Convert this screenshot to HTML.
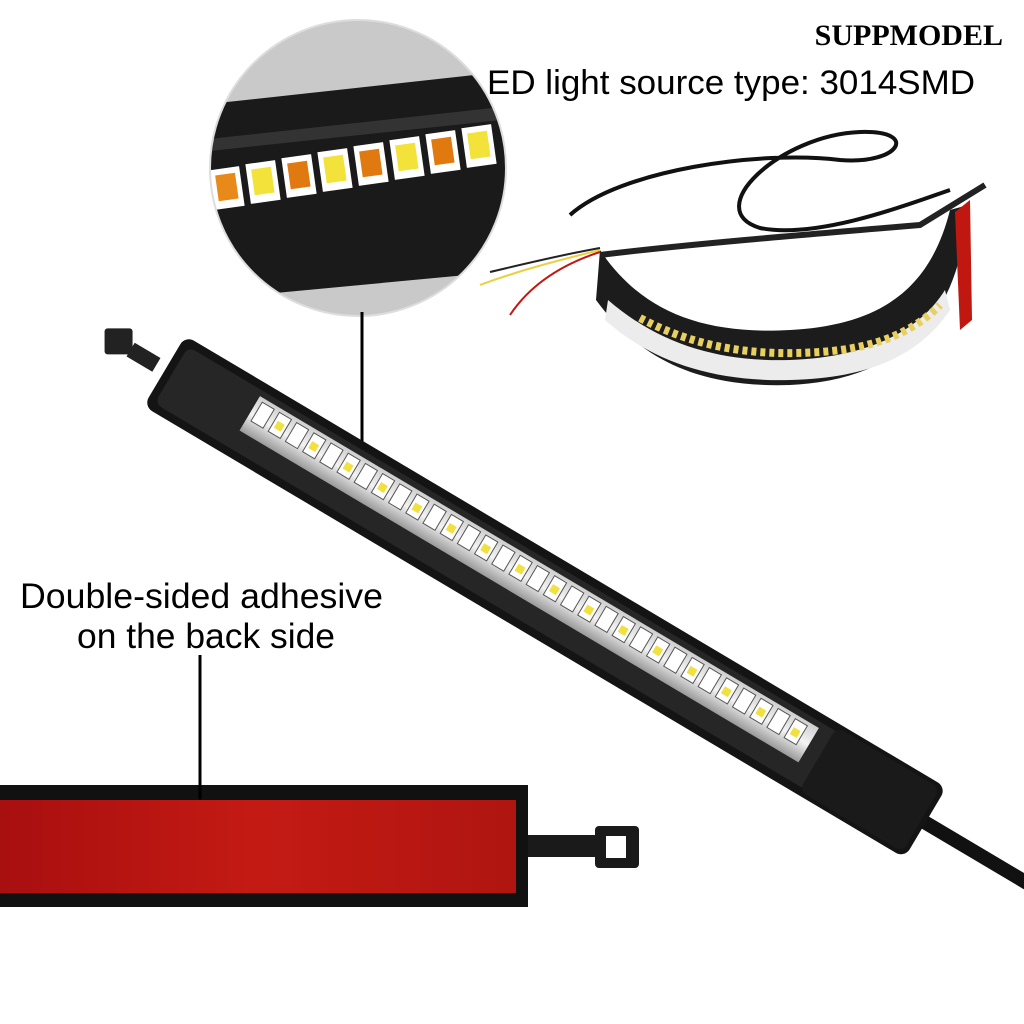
<!DOCTYPE html>
<html><head><meta charset="utf-8"><style>
html,body{margin:0;padding:0;background:#fff}
svg{display:block}
</style></head><body>
<svg width="1024" height="1024" viewBox="0 0 1024 1024" xmlns="http://www.w3.org/2000/svg">
<defs>
<clipPath id="cc"><circle cx="358" cy="168" r="148"/></clipPath>
<linearGradient id="red" x1="0" x2="1"><stop offset="0" stop-color="#a80f0f"/><stop offset="0.5" stop-color="#c41a14"/><stop offset="1" stop-color="#b01510"/></linearGradient>
<linearGradient id="win" x1="0" y1="0" x2="0" y2="1"><stop offset="0" stop-color="#cfcfcf"/><stop offset="0.5" stop-color="#f3f3f3"/><stop offset="1" stop-color="#9a9a9a"/></linearGradient>
</defs>
<rect width="1024" height="1024" fill="#fff"/>

<g clip-path="url(#cc)">
<rect x="200" y="10" width="320" height="320" fill="#c9c9c9"/>
<polygon points="200,105 520,70 520,270 200,300" fill="#1a1a1a"/>
<polygon points="200,140 520,105 520,118 200,152" fill="#333"/>
<g>
<rect x="212" y="168" width="30" height="40" fill="#fff" transform="rotate(-8 227 188)"/><rect x="217" y="174" width="20" height="26" fill="#e88a1a" transform="rotate(-8 227 188)"/>
<rect x="248" y="162" width="30" height="40" fill="#fff" transform="rotate(-8 263 182)"/><rect x="253" y="168" width="20" height="26" fill="#f2e23a" transform="rotate(-8 263 182)"/>
<rect x="284" y="156" width="30" height="40" fill="#fff" transform="rotate(-8 299 176)"/><rect x="289" y="162" width="20" height="26" fill="#e07a10" transform="rotate(-8 299 176)"/>
<rect x="320" y="150" width="30" height="40" fill="#fff" transform="rotate(-8 335 170)"/><rect x="325" y="156" width="20" height="26" fill="#f2e23a" transform="rotate(-8 335 170)"/>
<rect x="356" y="144" width="30" height="40" fill="#fff" transform="rotate(-8 371 164)"/><rect x="361" y="150" width="20" height="26" fill="#e07a10" transform="rotate(-8 371 164)"/>
<rect x="392" y="138" width="30" height="40" fill="#fff" transform="rotate(-8 407 158)"/><rect x="397" y="144" width="20" height="26" fill="#f2e23a" transform="rotate(-8 407 158)"/>
<rect x="428" y="132" width="30" height="40" fill="#fff" transform="rotate(-8 443 152)"/><rect x="433" y="138" width="20" height="26" fill="#e07a10" transform="rotate(-8 443 152)"/>
<rect x="464" y="126" width="30" height="40" fill="#fff" transform="rotate(-8 479 146)"/><rect x="469" y="132" width="20" height="26" fill="#f2e23a" transform="rotate(-8 479 146)"/>
</g>
</g>
<circle cx="358" cy="168" r="148" fill="none" stroke="#ddd" stroke-width="2"/>
<line x1="362" y1="312" x2="362" y2="462" stroke="#000" stroke-width="3"/>

<g transform="translate(165,370) rotate(30.7)">
<rect x="-40" y="-8" width="30" height="16" fill="#222"/>
<rect x="-68" y="-14" width="28" height="26" rx="3" fill="#222" transform="rotate(-30.7 -54 0)"/>
<rect x="860" y="-6" width="160" height="14" fill="#111"/>
<rect x="0" y="-40" width="885" height="82" rx="10" fill="#141414"/>
<rect x="8" y="-32" width="869" height="66" rx="8" fill="#262626"/>
<rect x="95" y="-26" width="650" height="40" fill="url(#win)"/>
<g fill="#fff" stroke="#555" stroke-width="1">
<rect x="100" y="-22" width="14" height="22"/><rect x="120" y="-22" width="14" height="22"/><rect x="140" y="-22" width="14" height="22"/><rect x="160" y="-22" width="14" height="22"/><rect x="180" y="-22" width="14" height="22"/><rect x="200" y="-22" width="14" height="22"/><rect x="220" y="-22" width="14" height="22"/><rect x="240" y="-22" width="14" height="22"/><rect x="260" y="-22" width="14" height="22"/><rect x="280" y="-22" width="14" height="22"/><rect x="300" y="-22" width="14" height="22"/><rect x="320" y="-22" width="14" height="22"/><rect x="340" y="-22" width="14" height="22"/><rect x="360" y="-22" width="14" height="22"/><rect x="380" y="-22" width="14" height="22"/><rect x="400" y="-22" width="14" height="22"/><rect x="420" y="-22" width="14" height="22"/><rect x="440" y="-22" width="14" height="22"/><rect x="460" y="-22" width="14" height="22"/><rect x="480" y="-22" width="14" height="22"/><rect x="500" y="-22" width="14" height="22"/><rect x="520" y="-22" width="14" height="22"/><rect x="540" y="-22" width="14" height="22"/><rect x="560" y="-22" width="14" height="22"/><rect x="580" y="-22" width="14" height="22"/><rect x="600" y="-22" width="14" height="22"/><rect x="620" y="-22" width="14" height="22"/><rect x="640" y="-22" width="14" height="22"/><rect x="660" y="-22" width="14" height="22"/><rect x="680" y="-22" width="14" height="22"/><rect x="700" y="-22" width="14" height="22"/><rect x="720" y="-22" width="14" height="22"/>
</g>
<g fill="#f0e040">
<rect x="123" y="-14" width="8" height="8"/><rect x="163" y="-14" width="8" height="8"/><rect x="203" y="-14" width="8" height="8"/><rect x="243" y="-14" width="8" height="8"/><rect x="283" y="-14" width="8" height="8"/><rect x="323" y="-14" width="8" height="8"/><rect x="363" y="-14" width="8" height="8"/><rect x="403" y="-14" width="8" height="8"/><rect x="443" y="-14" width="8" height="8"/><rect x="483" y="-14" width="8" height="8"/><rect x="523" y="-14" width="8" height="8"/><rect x="563" y="-14" width="8" height="8"/><rect x="603" y="-14" width="8" height="8"/><rect x="643" y="-14" width="8" height="8"/><rect x="683" y="-14" width="8" height="8"/><rect x="723" y="-14" width="8" height="8"/>
</g>
<rect x="760" y="-36" width="120" height="74" rx="8" fill="#1a1a1a"/>
</g>

<path d="M600,250 C640,310 700,335 790,330 C880,325 930,290 950,210 L968,205 C960,320 900,380 790,385 C700,388 640,360 596,300 Z" fill="#1c1c1c"/>
<path d="M608,300 C660,345 720,362 790,360 C870,357 920,330 945,290 L950,310 C920,355 870,378 790,380 C710,382 650,360 605,320 Z" fill="#ececec"/>
<path d="M640,318 C700,350 760,356 820,352 C880,348 915,330 940,305" fill="none" stroke="#e8d060" stroke-width="8" stroke-dasharray="5 4"/>
<path d="M955,212 L970,200 L972,320 L960,330 Z" fill="#c01810"/>
<path d="M570,215 C620,170 760,150 840,160 C900,165 920,130 860,132 C780,135 700,210 760,228 C820,240 920,200 950,190" fill="none" stroke="#111" stroke-width="4"/>
<path d="M600,255 C680,245 800,235 920,225 L985,185" fill="none" stroke="#222" stroke-width="6"/>
<path d="M600,250 C560,260 520,270 480,285" fill="none" stroke="#e8d040" stroke-width="2"/>
<path d="M600,252 C560,265 530,285 510,315" fill="none" stroke="#c01810" stroke-width="2"/>
<path d="M600,248 C560,255 520,265 490,272" fill="none" stroke="#222" stroke-width="2"/>

<rect x="0" y="785" width="528" height="122" fill="#111"/>
<rect x="0" y="800" width="516" height="93" fill="url(#red)"/>
<rect x="528" y="835" width="70" height="22" fill="#1a1a1a"/>
<rect x="595" y="826" width="44" height="42" rx="4" fill="#1a1a1a"/>
<rect x="606" y="836" width="20" height="22" fill="#fff"/>
<line x1="200" y1="655" x2="200" y2="800" stroke="#000" stroke-width="3"/>

<text x="1003" y="45" text-anchor="end" font-family="Liberation Serif, serif" font-weight="bold" font-size="30" fill="#000">SUPPMODEL</text>
<text x="487" y="94" font-family="Liberation Sans, sans-serif" font-size="34" textLength="488" lengthAdjust="spacingAndGlyphs" fill="#000">ED light source type: 3014SMD</text>
<text x="20" y="608" font-family="Liberation Sans, sans-serif" font-size="35" textLength="363" lengthAdjust="spacingAndGlyphs" fill="#000">Double-sided adhesive</text>
<text x="77" y="648" font-family="Liberation Sans, sans-serif" font-size="35" textLength="258" lengthAdjust="spacingAndGlyphs" fill="#000">on the back side</text>
</svg>
</body></html>
